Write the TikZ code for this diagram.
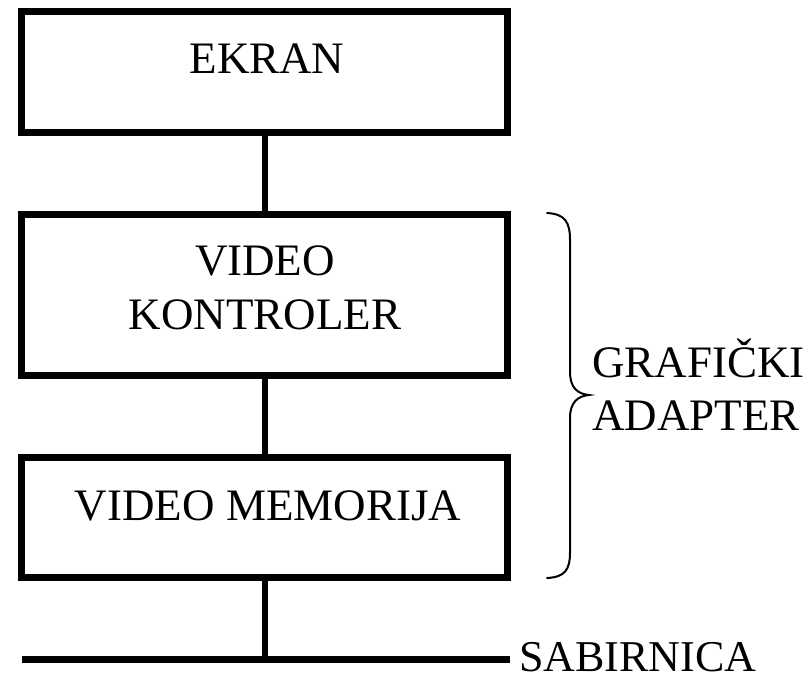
\documentclass[tikz,border=0pt]{standalone}
\usepackage{fontspec}
\setmainfont{Liberation Serif}
\begin{document}
\begin{tikzpicture}[x=1pt,y=-1pt,
  box/.style={draw, line width=7pt, minimum width=486pt, outer sep=0pt, inner sep=0pt},
  conn/.style={line width=6pt},
  bus/.style={line width=7pt},
  bracestyle/.style={line width=2pt, line cap=round},
  lbl/.style={anchor=base, inner sep=0pt, font=\fontsize{45}{54}\selectfont},
  lbll/.style={anchor=base west, inner sep=0pt, font=\fontsize{45}{54}\selectfont}]
\useasboundingbox (0,0) rectangle (811,678);
\node[box, minimum height=121pt] (ekran) at (264.5,72) {};
\node[box, minimum height=161pt] (kontr) at (264.5,295) {};
\node[box, minimum height=120pt] (mem) at (264.5,517.5) {};
\node[lbl] (tekran) at (267,73) {EKRAN};
\node[lbl] (tvideo) at (265,275) {VIDEO};
\node[lbl] (tkontr) at (265,329) {KONTROLER};
\node[lbl] (tmem) at (268,520) {VIDEO MEMORIJA};
\coordinate (busL) at (22,659);
\coordinate (busR) at (510,659);
\draw[bus] (busL) -- (busR);
\node[lbll, text depth=0pt, font=\fontsize{44}{52}\selectfont] (tsab) at (519,671) {SABIRNICA};
\draw[conn] (ekran.south) -- (kontr.north);
\draw[conn] (kontr.south) -- (mem.north);
\draw[conn] (mem.south) -- (mem.south |- busL);
\draw[bracestyle] (547,213) .. controls (565,214) and (570,222) .. (570,240) -- (570,372) .. controls (570,388) and (578,394) .. (589,395) .. controls (578,396) and (570,402) .. (570,418) -- (570,552) .. controls (570,570) and (565,577) .. (547,578);
\node[lbll] (tgraf) at (592,377) {GRAFIČKI};
\node[lbll] (tadap) at (592,430) {ADAPTER};
\end{tikzpicture}
\end{document}
